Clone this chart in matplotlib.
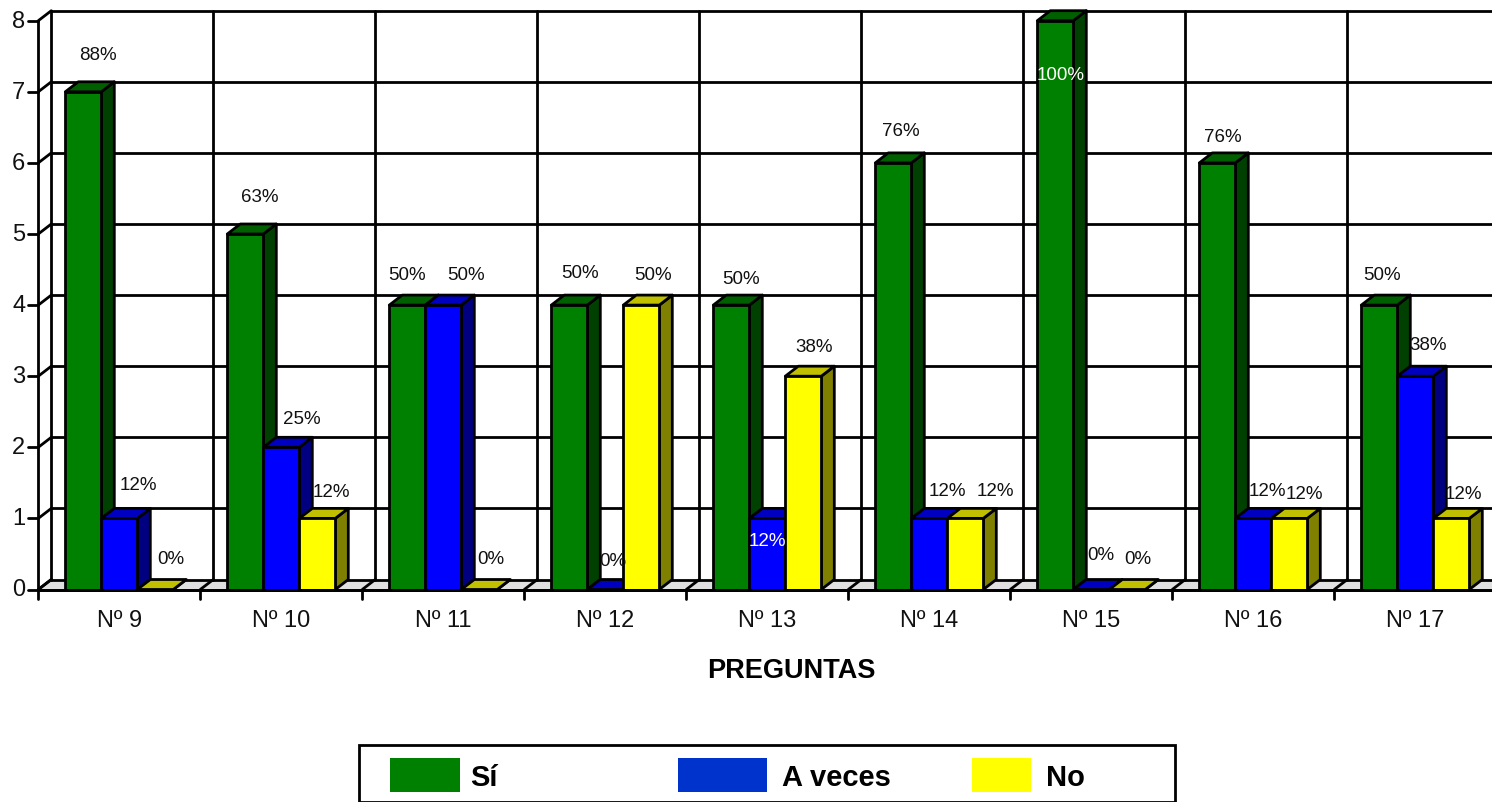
import matplotlib
matplotlib.use("Agg")
import matplotlib.pyplot as plt
from matplotlib.patches import Polygon, Rectangle

plt.rcParams['font.family'] = ['Liberation Sans', 'DejaVu Sans']

categories = ['Nº 9', 'Nº 10', 'Nº 11', 'Nº 12', 'Nº 13', 'Nº 14', 'Nº 15', 'Nº 16', 'Nº 17']
si = [7, 5, 4, 4, 4, 6, 8, 6, 4]
a_veces = [1, 2, 4, 0, 1, 1, 0, 1, 3]
no = [0, 1, 0, 4, 3, 1, 0, 1, 1]
si_pct = ['88%', '63%', '50%', '50%', '50%', '76%', '100%', '76%', '50%']
av_pct = ['12%', '25%', '50%', '0%', '12%', '12%', '0%', '12%', '38%']
no_pct = ['0%', '12%', '0%', '50%', '38%', '12%', '0%', '12%', '12%']
y_ticks = [0, 1, 2, 3, 4, 5, 6, 7, 8]

W, H = 1492, 802
X0, Y0, STEP, UNIT = 38.3, 589.5, 162, 71.1
DX_PX, DY_PX = 13, 10
BAR_PX, PAD_PX = 36, 27
LW = 2.0

# pixel centres of the percentage labels (series, category)
si_pos = [(97, 55), (259, 196), (407, 275), (580, 273), (741, 279), (900, 131), (1060, 75), (1222, 137), (1382, 275)]
av_pos = [(138, 485), (301, 419), (466, 275), (612, 561), (767, 541), (947, 490), (1100, 554), (1267, 491), (1428, 345)]
no_pos = [(170, 559), (331, 492), (490, 559), (653, 275), (814, 346), (995, 491), (1137, 559), (1304, 493), (1463, 493)]
white_labels = {('av', 4), ('si', 6)}

fig = plt.figure(figsize=(W / 100, H / 100), dpi=100, facecolor='white')
ax = fig.add_axes([X0 / W, (H - Y0) / H, STEP * 9 / W, UNIT * 8 / H])
ax.set_xlim(0, 9)
ax.set_ylim(0, 8)
ax.axis('off')

dx = DX_PX / STEP
dy = DY_PX / UNIT
bw = BAR_PX / STEP
pad = PAD_PX / STEP
n = len(categories)


def poly(pts, fc, z):
    ax.add_patch(Polygon(pts, closed=True, facecolor=fc, edgecolor='black', lw=LW,
                         joinstyle='round', clip_on=False, zorder=z))


def line(xs, ys, z=2):
    ax.plot(xs, ys, color='black', lw=LW, clip_on=False, zorder=z, solid_capstyle='round')


# floor
ax.add_patch(Polygon([(0, 0), (n, 0), (n + dx, dy), (dx, dy)], closed=True, facecolor='#E0E0E0',
                     edgecolor='none', clip_on=False, zorder=1))
# back wall grid and slanted wall lines
for v in y_ticks:
    line([dx, n + dx], [v + dy, v + dy])
    line([0, dx], [v, v + dy])
    line([-10 / STEP, 0], [v, v])
    ax.text(-13 / STEP, v - 1 / UNIT, str(v), ha='right', va='center', fontsize=17, color='#111111', clip_on=False)
for k in range(n + 1):
    line([k + dx, k + dx], [dy, 8 + dy])
    line([k, k + dx], [0, dy])
    line([k, k], [0, -9 / UNIT])
line([0, 0], [0, 8])
line([0, n], [0, 0], z=2)

# bars
series = [(si, '#008000', '#004000', '#006000'),
          (a_veces, '#0000FF', '#000080', '#0000C0'),
          (no, '#FFFF00', '#808000', '#C0C000')]
z = 3
for i in range(n):
    for j, (vals, front, side, top) in enumerate(series):
        v = vals[i]
        x = i + pad + j * bw
        poly([(x + bw, 0), (x + bw + dx, dy), (x + bw + dx, v + dy), (x + bw, v)], side, z)
        poly([(x, v), (x + bw, v), (x + bw + dx, v + dy), (x + dx, v + dy)], top, z)
        if v > 0:
            poly([(x, 0), (x + bw, 0), (x + bw, v), (x, v)], front, z)
        z += 1
line([0, n], [0, 0], z=z)


def px_text(x, y, s, **kw):
    fig.text(x / W, 1 - y / H, s, **kw)


# percentage labels
for key, labels, pos in [('si', si_pct, si_pos), ('av', av_pct, av_pos), ('no', no_pct, no_pos)]:
    for i, (s, (x, y)) in enumerate(zip(labels, pos)):
        color = 'white' if (key, i) in white_labels else '#111111'
        px_text(x + 0.5, y + 1, s, ha='center', va='center', fontsize=13.5, color=color, zorder=50)

# category labels
for i, c in enumerate(categories):
    ax.text(i + 0.5, -(621 - Y0) / UNIT, c, ha='center', va='center', fontsize=17, color='#111111', clip_on=False)

px_text(791, 670.5, 'PREGUNTAS', ha='center', va='center', fontsize=19.5, fontweight='bold', color='black')

# legend
fig.add_artist(Rectangle((359 / W, 0), (1175 - 359) / W, (H - 745) / H, transform=fig.transFigure,
                         facecolor='white', edgecolor='black', lw=LW, clip_on=False))
for x0, x1, col in [(390, 460, '#008000'), (678, 767, '#0033CC'), (972, 1031, '#FFFF00')]:
    fig.add_artist(Rectangle((x0 / W, (H - 792) / H), (x1 - x0) / W, 34 / H, transform=fig.transFigure,
                             facecolor=col, edgecolor='none'))
for x, s in [(470, 'Sí'), (782, 'A veces'), (1046, 'No')]:
    px_text(x, 778.5, s, ha='left', va='center', fontsize=21, fontweight='bold', color='black')

fig.savefig('out.png', dpi=100)
